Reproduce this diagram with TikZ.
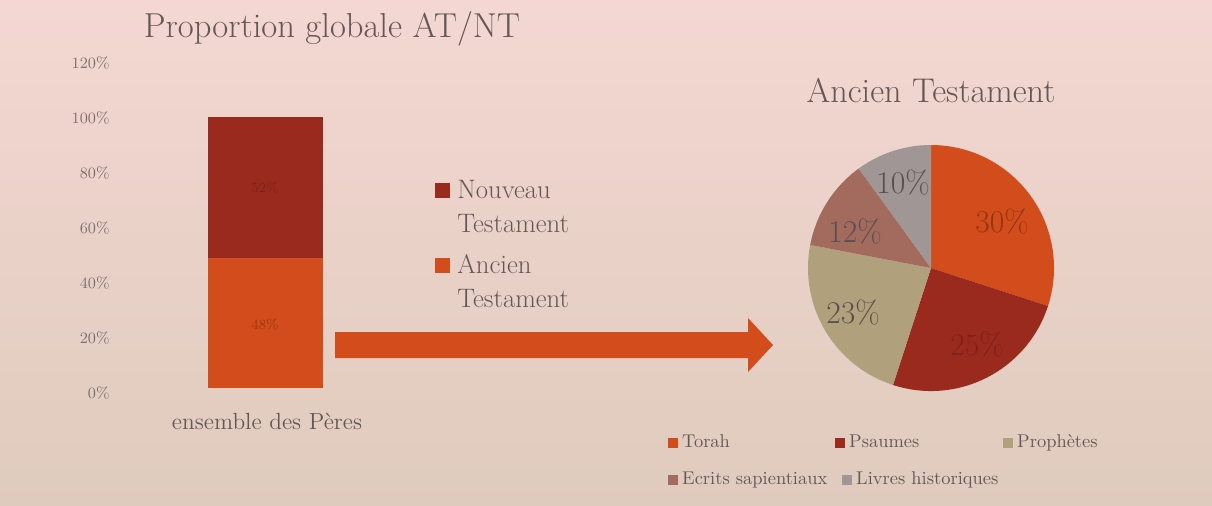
\documentclass[tikz,border=0pt]{standalone}
\usetikzlibrary{positioning}

\definecolor{bgtop}{RGB}{244,215,210}
\definecolor{bgbottom}{RGB}{223,203,189}
\definecolor{torahred}{RGB}{211,76,27}
\definecolor{psaumered}{RGB}{155,42,30}
\definecolor{prophkhaki}{RGB}{176,160,124}
\definecolor{ecritsbrown}{RGB}{163,107,94}
\definecolor{livresgray}{RGB}{160,150,150}
\definecolor{txtgray}{RGB}{100,88,86}
\definecolor{axisgray}{RGB}{125,113,110}

\begin{document}
\begin{tikzpicture}[x=0.02cm,y=0.02cm,
    txt/.style={text=txtgray,inner sep=0pt},
    ticklbl/.style={txt,text=axisgray,anchor=east,font=\fontsize{9}{10}\selectfont},
    barlbl/.style={inner sep=0pt,font=\fontsize{8}{9}\selectfont},
    pielbl/.style={inner sep=0pt,font=\fontsize{18}{20}\selectfont},
    keybig/.style={minimum size=0.3cm,inner sep=0pt},
    keysmall/.style={minimum size=0.2cm,inner sep=0pt},
    keylbl/.style={txt,font=\fontsize{10.5}{12}\selectfont,text height=1.6ex,text depth=0.3ex}]
  \useasboundingbox (0,0) rectangle (1212,505);
  \shade[top color=bgtop,bottom color=bgbottom] (0,0) rectangle (1212,505);

  \node[txt,anchor=base,font=\fontsize{19.7}{22}\selectfont] (title) at (332,468) {Proportion globale AT/NT};

  \foreach \v in {0,20,...,120} {
    \node[ticklbl] (tick\v) at (110,{112+2.75*\v}) {\v\%};
  }

  \fill[torahred] (208,117) rectangle (323,247);
  \fill[psaumered] (208,247) rectangle (323,388);
  \node[barlbl,text=psaumered!80!black] (bNT) at (265,317) {52\%};
  \node[barlbl,text=torahred!75!black] (bAT) at (265,180) {48\%};
  \node[txt,font=\fontsize{13.3}{15}\selectfont] (peres) at (267,84) {ensemble des Pères};

  \node[keybig,fill=psaumered] (kNT) at (442.5,315) {};
  \node[txt,anchor=north west,align=left,font=\fontsize{15.2}{19.3}\selectfont] (lNT) at (457,325) {Nouveau\\Testament};
  \node[keybig,fill=torahred] (kAT) at (442.5,240) {};
  \node[txt,anchor=north west,align=left,font=\fontsize{15.2}{19.3}\selectfont] (lAT) at (457,251) {Ancien\\Testament};

  \fill[torahred] (335,147) -- (748,147) -- (748,133) -- (773,160) -- (748,187) -- (748,173) -- (335,173) -- cycle;

  \node[txt,anchor=base,font=\fontsize{19.5}{22}\selectfont] (pietitle) at (931,403) {Ancien Testament};
  \coordinate (pc) at (931,237);
  \foreach \a/\b/\col in {90/-18/torahred,-18/-108/psaumered,-108/-190.8/prophkhaki,-190.8/-234/ecritsbrown,-234/-270/livresgray} {
    \fill[\col] (pc) -- ++(\a:123) arc[start angle=\a,end angle=\b,radius=123] -- cycle;
  }
  \foreach \lx/\ly/\p/\c in {1002/283/30/torahred!70!black,977/160/25/psaumered!80!black,853/192/23/txtgray!90!black,855/273/12/txtgray!90!black,903/322/10/txtgray!90!black} {
    \node[pielbl,text=\c] (pie\p) at (\lx,\ly) {\p\%};
  }

  \foreach \n/\t/\col/\kx/\ky in {torah/Torah/torahred/673/62,psaumes/Psaumes/psaumered/840/62,prophetes/Prophètes/prophkhaki/1008/62,ecrits/Ecrits sapientiaux/ecritsbrown/673/25,livres/Livres historiques/livresgray/847/25} {
    \node[keysmall,fill=\col] (k\n) at (\kx,\ky) {};
    \node[keylbl,right=2pt of k\n] (l\n) {\t};
  }
\end{tikzpicture}
\end{document}
